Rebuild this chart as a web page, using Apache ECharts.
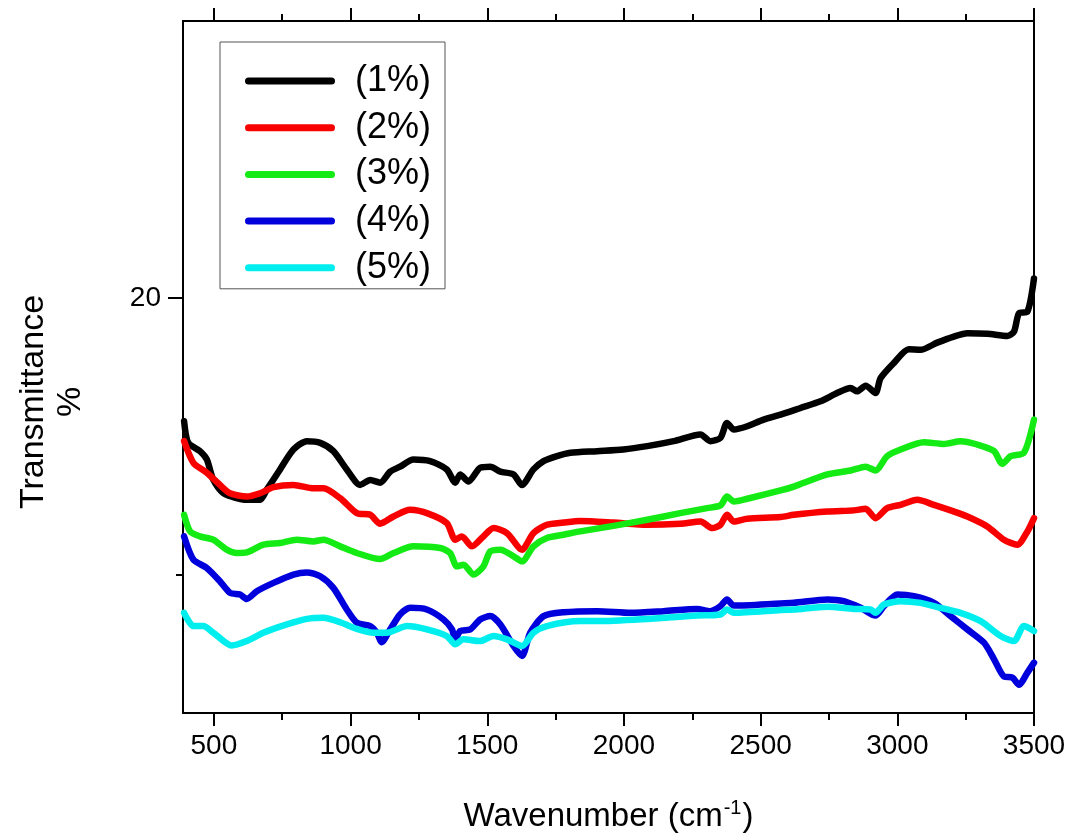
<!DOCTYPE html>
<html>
<head>
<meta charset="utf-8">
<script src="https://cdn.jsdelivr.net/npm/echarts@6/dist/echarts.min.js"></script>
<style>html,body{margin:0;padding:0;background:#fff}#chart{width:1068px;height:836px}</style>
</head>
<body>
<div id="chart"></div>
<script>
// ---- data ----
var seriesNames = ['(1%)', '(2%)', '(3%)', '(4%)', '(5%)'];
var seriesColors = ['#000000', '#f80000', '#14ea14', '#0000dc', '#00eeee'];

var wn1 = [391,406,449,474,498,535,620,669,693,742,791,840,889,937,986,1035,1072,1108,1145,1181,1230,1291,1352,1383,1401,1431,1474,1511,1548,1596,1627,1669,1706,1755,1804,1902,1998,2085,2182,2280,2316,2353,2377,2402,2451,2511,2573,2646,2719,2780,2829,2853,2884,2920,2939,2987,3042,3085,3146,3207,3256,3329,3403,3427,3445,3476,3500];
var t1 = [17.77,17.38,17.23,17.08,16.71,16.47,16.35,16.35,16.53,16.90,17.26,17.41,17.38,17.23,16.90,16.62,16.71,16.66,16.86,16.95,17.08,17.05,16.90,16.66,16.81,16.68,16.93,16.95,16.86,16.81,16.62,16.90,17.05,17.14,17.20,17.23,17.26,17.32,17.41,17.53,17.41,17.47,17.74,17.62,17.68,17.80,17.89,18.01,18.13,18.28,18.37,18.31,18.41,18.28,18.55,18.82,19.07,19.06,19.19,19.30,19.36,19.35,19.31,19.39,19.72,19.75,20.35];

var wn2 = [391,425,474,522,559,620,669,718,791,864,901,962,1023,1072,1108,1157,1218,1279,1352,1383,1407,1444,1486,1523,1572,1627,1669,1718,1779,1840,1962,2085,2206,2280,2323,2353,2377,2402,2451,2573,2621,2744,2841,2884,2920,2963,3012,3073,3134,3195,3256,3329,3390,3439,3476,3500];
var t2 = [17.41,17.02,16.84,16.62,16.47,16.41,16.47,16.58,16.62,16.56,16.56,16.38,16.11,16.08,15.92,16.05,16.17,16.11,15.93,15.63,15.69,15.51,15.69,15.84,15.75,15.45,15.75,15.90,15.94,15.97,15.94,15.90,15.92,15.96,15.84,15.90,16.08,15.96,16.01,16.04,16.08,16.14,16.16,16.19,16.02,16.20,16.26,16.35,16.26,16.16,16.05,15.87,15.63,15.54,15.78,16.02];

var wn3 = [391,413,449,498,547,584,620,681,742,803,864,901,962,1023,1108,1157,1230,1328,1364,1389,1413,1450,1486,1511,1548,1596,1627,1669,1718,1779,1840,1962,2085,2206,2304,2353,2377,2402,2451,2573,2621,2744,2829,2884,2920,2963,3012,3097,3170,3231,3292,3354,3384,3415,3463,3500];
var t3 = [16.08,15.78,15.69,15.63,15.45,15.39,15.40,15.54,15.57,15.63,15.60,15.63,15.51,15.39,15.28,15.39,15.51,15.48,15.39,15.15,15.18,15.00,15.15,15.42,15.45,15.33,15.24,15.51,15.66,15.72,15.78,15.88,15.99,16.11,16.20,16.25,16.41,16.32,16.37,16.52,16.59,16.81,16.88,16.95,16.88,17.14,17.26,17.39,17.36,17.41,17.35,17.23,17.00,17.14,17.20,17.80];

var wn4 = [391,425,474,522,559,596,620,657,718,791,840,889,937,986,1023,1072,1096,1114,1145,1181,1218,1279,1340,1371,1383,1401,1438,1474,1511,1548,1596,1627,1657,1706,1779,1902,2024,2145,2268,2316,2353,2377,2402,2573,2621,2744,2804,2866,2920,2951,3000,3061,3134,3195,3256,3317,3354,3390,3421,3445,3476,3500];
var t4 = [15.69,15.27,15.12,14.88,14.67,14.64,14.56,14.70,14.85,15.00,15.04,14.97,14.76,14.37,14.13,14.07,13.95,13.78,14.01,14.28,14.40,14.37,14.19,14.01,13.83,13.98,14.01,14.19,14.25,14.10,13.71,13.53,13.95,14.25,14.32,14.34,14.31,14.34,14.38,14.34,14.43,14.55,14.44,14.48,14.49,14.55,14.52,14.40,14.26,14.43,14.64,14.61,14.49,14.25,14.01,13.77,13.47,13.16,13.14,13.01,13.23,13.41];

var wn5 = [391,425,461,498,565,620,681,767,840,901,962,1023,1084,1133,1206,1279,1352,1383,1413,1474,1523,1572,1627,1669,1718,1840,1902,2085,2268,2353,2377,2402,2573,2621,2744,2841,2902,2920,2951,3012,3085,3158,3231,3305,3378,3427,3463,3500];
var t5 = [14.31,14.07,14.07,13.95,13.72,13.80,13.95,14.10,14.20,14.22,14.14,14.02,13.95,13.95,14.07,14.01,13.89,13.74,13.83,13.80,13.89,13.83,13.71,13.95,14.07,14.16,14.16,14.20,14.26,14.28,14.37,14.31,14.36,14.37,14.42,14.38,14.37,14.31,14.46,14.52,14.49,14.40,14.31,14.16,13.89,13.80,14.07,13.98];

var xMajorTicks = [500, 1000, 1500, 2000, 2500, 3000, 3500];
var xMinorTicks = [750, 1250, 1750, 2250, 2750, 3250];
var yMajorTicks = [20];
var yMinorTicks = [15];
var xRange = [387, 3500];
var yRange = [12.5, 25];

// ---- chart ----
var FONT = '"Liberation Sans", Arial, Helvetica, sans-serif';
var wnList = [wn1, wn2, wn3, wn4, wn5];
var tList = [t1, t2, t3, t4, t5];

function pairs(xs, ys) {
  var out = [];
  for (var i = 0; i < xs.length; i++) out.push([xs[i], ys[i]]);
  return out;
}
function plain(v) { return String(v); }

var chart = echarts.init(document.getElementById('chart'), null, {renderer: 'canvas'});

var axisLine = {show: true, lineStyle: {color: '#000', width: 2}};

function xAx(pos, ticks, len, labels, extra) {
  var a = {
    type: 'value', position: pos, min: xRange[0], max: xRange[1],
    axisLine: axisLine,
    axisTick: {show: true, inside: false, length: len, customValues: ticks, lineStyle: {color: '#000', width: 2}},
    axisLabel: labels ? {show: true, customValues: ticks, formatter: plain, margin: 19, fontSize: 28, color: '#000', fontFamily: FONT} : {show: false},
    splitLine: {show: false}
  };
  if (extra) for (var k in extra) a[k] = extra[k];
  return a;
}

var option = {
  backgroundColor: '#ffffff',
  animation: false,
  textStyle: {fontFamily: FONT},
  grid: {left: 183, right: 34, top: 21, bottom: 123, containLabel: false, outerBoundsMode: 'none'},
  legend: {
    orient: 'vertical',
    left: 220, top: 42,
    padding: [19, 14, 1, 25],
    itemGap: 6.7,
    itemWidth: 90,
    itemHeight: 7,
    icon: 'path://M3.5,0 L86.5,0 A3.5,3.5 0 0 1 86.5,7 L3.5,7 A3.5,3.5 0 0 1 3.5,0 Z',
    borderColor: '#555',
    borderWidth: 1,
    data: seriesNames,
    textStyle: {fontSize: 36, color: '#000', fontFamily: FONT, lineHeight: 40, padding: [0, 0, 0, 15]}
  },
  xAxis: [
    xAx('bottom', xMajorTicks, 13, true, {
      name: 'Wavenumber (cm{sup|-1})',
      nameLocation: 'middle', nameGap: 85,
      nameTextStyle: {
        fontSize: 33, color: '#000', fontFamily: FONT, lineHeight: 38,
        rich: {sup: {fontSize: 20, color: '#000', fontFamily: FONT, verticalAlign: 'top', lineHeight: 38, padding: [0, 1, 17, 1]}}
      }
    }),
    xAx('bottom', xMinorTicks, 7, false),
    xAx('top', xMajorTicks, 13, false),
    xAx('top', xMinorTicks, 7, false)
  ],
  yAxis: [
    {
      type: 'value', position: 'left', min: yRange[0], max: yRange[1],
      axisLine: axisLine,
      axisTick: {show: true, length: 15, customValues: yMajorTicks, lineStyle: {color: '#000', width: 2}},
      axisLabel: {show: true, customValues: yMajorTicks, formatter: plain, margin: 22, fontSize: 28, color: '#000', fontFamily: FONT},
      splitLine: {show: false},
      name: 'Transmittance\n%',
      nameLocation: 'middle', nameRotate: 90, nameGap: 94,
      nameTextStyle: {fontSize: 34, color: '#000', fontFamily: FONT, lineHeight: 37, align: 'center', padding: [0, 70, 0, 0]}
    },
    {
      type: 'value', position: 'left', min: yRange[0], max: yRange[1],
      axisLine: axisLine,
      axisTick: {show: true, length: 7, customValues: yMinorTicks, lineStyle: {color: '#000', width: 2}},
      axisLabel: {show: false},
      splitLine: {show: false}
    },
    {
      type: 'value', position: 'right', min: yRange[0], max: yRange[1],
      axisLine: axisLine,
      axisTick: {show: false},
      axisLabel: {show: false},
      splitLine: {show: false}
    }
  ],
  series: seriesNames.map(function (name, i) {
    return {
      name: name,
      type: 'line',
      xAxisIndex: 0,
      yAxisIndex: 0,
      data: pairs(wnList[i], tList[i]),
      showSymbol: false,
      symbol: 'none',
      smooth: 0.25,
      color: seriesColors[i],
      lineStyle: {color: seriesColors[i], width: 6.5, cap: 'round', join: 'round'},
      clip: true
    };
  })
};

chart.setOption(option);
</script>
</body>
</html>
